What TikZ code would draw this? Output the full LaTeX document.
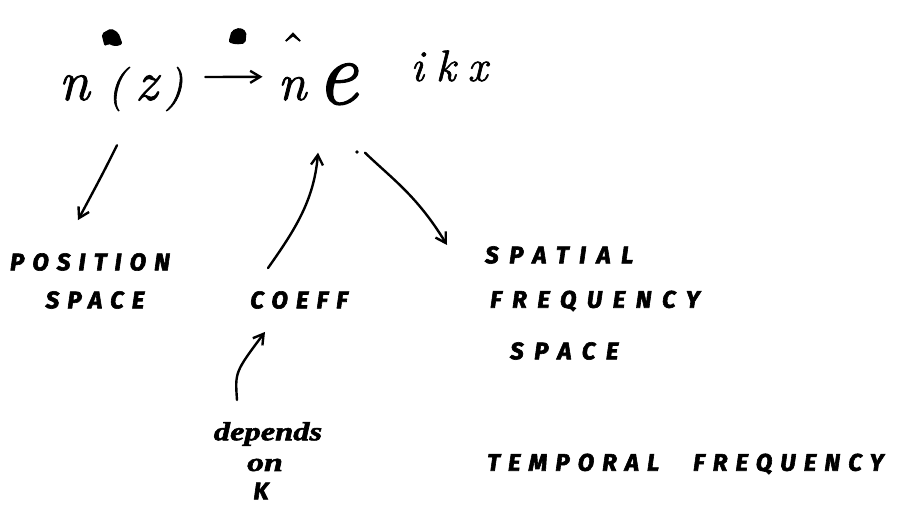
\documentclass[tikz,border=0pt]{standalone}
\usepackage{fontspec}
\usepackage{graphicx}
\usetikzlibrary{arrows.meta,calc}
\newfontfamily\capsfont[LetterSpace=34,FakeBold=2.5]{Fira Sans}
\newfontfamily\capsfontw[LetterSpace=44,FakeBold=2.5]{Fira Sans}
\newfontfamily\cursfont[FakeBold=2]{Liberation Serif}
\newfontfamily\handmath[FakeBold=1.5]{Latin Modern Roman}
\tikzset{
  ink/.style={line width=2.4pt,line cap=round,line join=round},
  arr/.style={ink,-{Straight Barb[length=10pt,width=12pt,line width=2.4pt]}},
  caps/.style={inner sep=0pt,font=\capsfont\bfseries\itshape\fontsize{24}{26}\selectfont},
  capsw/.style={inner sep=0pt,anchor=west,font=\capsfontw\bfseries\itshape\fontsize{24}{26}\selectfont},
  mtxt/.style={inner sep=0pt,anchor=base,font=\handmath\itshape},
  blob/.style={fill=black,draw=black,line width=1pt,rounded corners=2pt}
}
\begin{document}
\begin{tikzpicture}[x=1pt,y=-1pt]
\useasboundingbox (0,0) rectangle (906,505);
% scribbled-out marks
\filldraw[blob] (102,34) -- (111,29) -- (118,33) -- (122,44) -- (115,46) -- (108,43) -- (105,46) -- cycle;
\filldraw[blob] (229,42) -- (232,31) -- (240,28) -- (246,32) -- (245,43) -- (236,44) -- cycle;
% main expression
\node[mtxt,font=\handmath\itshape\fontsize{56}{60}\selectfont] (nz) at (121,100) {n\hspace{18pt}{\fontsize{44}{48}\selectfont(}\hspace{10pt}z\hspace{8pt}{\fontsize{44}{48}\selectfont)}};
\node[mtxt,font=\handmath\itshape\fontsize{52}{56}\selectfont] (nhat) at (292,100) {n};
\node[mtxt,font=\handmath\fontsize{48}{52}\selectfont] (hat) at (293,66) {ˆ};
\node[mtxt,font=\handmath\itshape\fontsize{92}{96}\selectfont] (ee) at (337,104) {e};
\node[mtxt,font=\handmath\itshape\fontsize{44}{48}\selectfont] (expo) at (449,81) {i\hspace{12pt}k\hspace{12pt}x};
\fill (357,152) circle (1.8pt);
% labels
\node[caps] (pos) at (90,262) {POSITION};
\node[caps] (pspace) at (95,300) {SPACE};
\node[caps] (coeff) at (299,300) {COEFF};
\node[capsw] (spatial) at (485,255) {SPATIAL};
\node[capsw] (freq) at (490,301) {FREQUENCY};
\node[capsw] (sspace) at (510,351) {SPACE};
\node[caps,anchor=west] (temporal) at (487,464) {TEMPORAL\hspace{34pt}FREQUENCY};
\node[inner sep=0pt,font=\cursfont\bfseries\itshape\fontsize{26}{28}\selectfont] (dep) at (268,434) {\scalebox{1.25}[1]{depends}};
\node[inner sep=0pt,font=\cursfont\bfseries\itshape\fontsize{26}{28}\selectfont] (on) at (265,465) {\scalebox{1.3}[1]{on}};
\node[caps] (kk) at (261,491) {K};
% connectors
\draw[arr] ($(nz.east)+(22,-12)$) -- ($(nhat.west)+(-15,-12)$);
\draw[arr] ($(nz.south)+(-4,34)$) .. controls ($(nz.south)+(-18,62)$) .. ($(pos.north)+(-12,-33)$);
\draw[arr] ($(coeff.north)+(-31,-23)$) .. controls ($(coeff.north)+(-5,-60)$) and ($(coeff.north)+(15,-90)$) .. ($(nhat.south)+(26,52)$);
\draw[arr] ($(nhat.south)+(73,52)$) .. controls ($(nhat.south)+(100,78)$) and ($(nhat.south)+(125,95)$) .. ($(spatial.west)+(-38,-10)$);
\draw[arr] ($(dep.north)+(-31,-22)$) .. controls ($(dep.north)+(-33,-50)$) .. ($(coeff.south)+(-34,23)$);
\end{tikzpicture}
\end{document}
